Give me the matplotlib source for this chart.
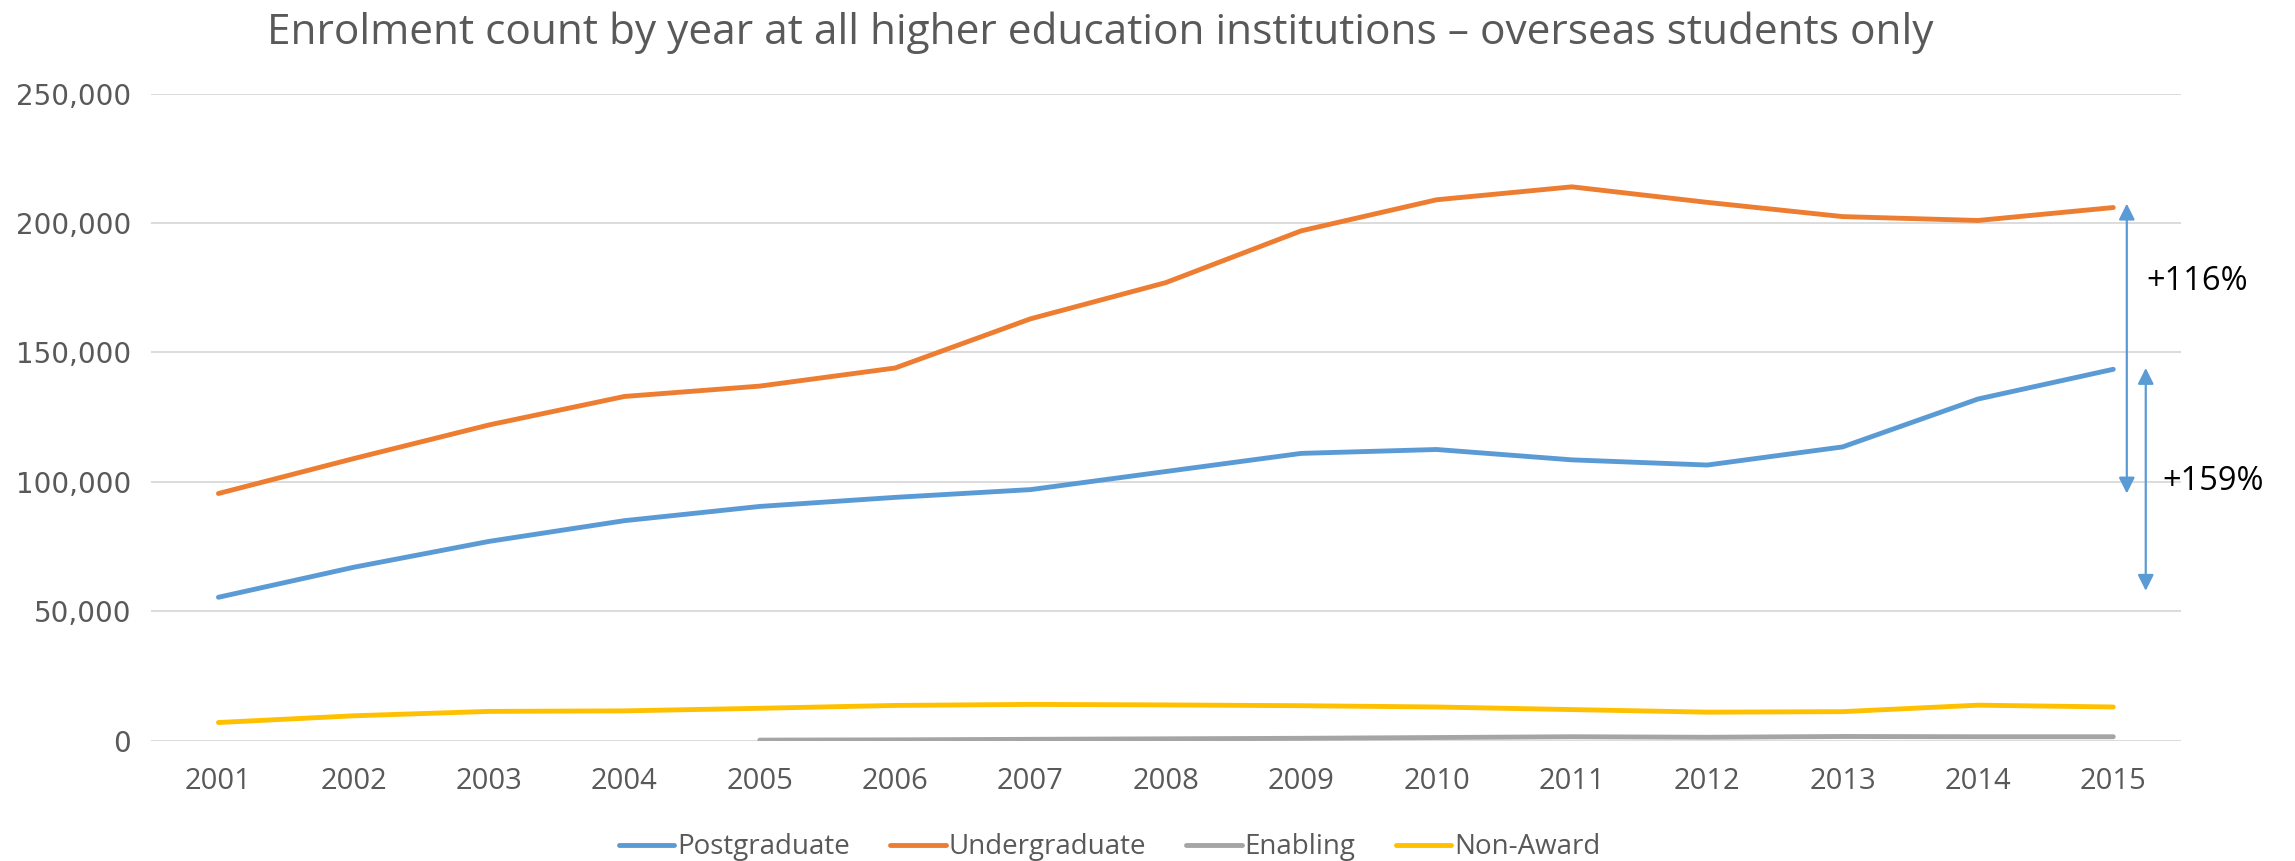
import matplotlib
matplotlib.use("Agg")
import matplotlib.pyplot as plt
from matplotlib.ticker import FuncFormatter

years = list(range(2001, 2016))
postgraduate = [55400, 67000, 77000, 85000, 90500, 94000, 97000, 104000, 111000, 112500, 108500, 106500, 113500, 132000, 143500]
undergraduate = [95500, 109000, 122000, 133000, 137000, 144000, 163000, 177000, 197000, 209000, 214000, 208000, 202500, 201000, 206000]
enabling_years = list(range(2005, 2016))
enabling = [200, 300, 500, 700, 900, 1200, 1500, 1300, 1600, 1500, 1500]
non_award = [7000, 9600, 11300, 11500, 12500, 13600, 14000, 13800, 13500, 13000, 12000, 11000, 11200, 13700, 13000]
series_names = ["Postgraduate", "Undergraduate", "Enabling", "Non-Award"]
colors = ["#5B9BD5", "#ED7D31", "#A5A5A5", "#FFC000"]
title = "Enrolment count by year at all higher education institutions \u2013 overseas students only"
ug_change = "+116%"
pg_change = "+159%"

fig = plt.figure(figsize=(22.95, 8.61), dpi=100)
ax = fig.add_axes([0.0657, 0.1398, 0.8846, 0.7514])

lw = 3.5
ax.plot(years, postgraduate, color=colors[0], lw=lw, label=series_names[0], solid_capstyle="round", zorder=3)
ax.plot(years, undergraduate, color=colors[1], lw=lw, label=series_names[1], solid_capstyle="round", zorder=3)
ax.plot(enabling_years, enabling, color=colors[2], lw=lw, label=series_names[2], solid_capstyle="round", zorder=3)
ax.plot(years, non_award, color=colors[3], lw=lw, label=series_names[3], solid_capstyle="round", zorder=3)

ax.set_xlim(2000.5, 2015.5)
ax.set_ylim(0, 250000)
ax.set_xticks(years)
ax.set_yticks(range(0, 250001, 50000))
ax.yaxis.set_major_formatter(FuncFormatter(lambda v, p: f"{int(v):,}"))
ax.grid(axis="y", color="#D9D9D9", lw=1.3)
ax.set_axisbelow(True)
for s in ax.spines.values():
    s.set_visible(False)
ax.tick_params(length=0)
ax.tick_params(axis="y", labelfontfamily="DejaVu Sans", labelsize=20, labelcolor="#595959", pad=14)
ax.tick_params(axis="x", labelfontfamily="Open Sans", labelsize=21, labelcolor="#595959", pad=19)

fig.text(0.4796, 0.962, title, ha="center", va="center", fontsize=30.5, color="#595959", family="Open Sans")

# arrows
ax.annotate("", xy=(2015.1, undergraduate[-1] + 1500), xytext=(2015.1, undergraduate[0]),
            arrowprops=dict(arrowstyle="<|-|>", color=colors[0], lw=1.6, mutation_scale=24, shrinkA=0, shrinkB=0),
            annotation_clip=False)
ax.annotate("", xy=(2015.24, postgraduate[-1] + 500), xytext=(2015.24, postgraduate[0] + 2500),
            arrowprops=dict(arrowstyle="<|-|>", color=colors[0], lw=1.6, mutation_scale=24, shrinkA=0, shrinkB=0),
            annotation_clip=False)
fig.text(2146 / 2295, 1 - 282 / 861, ug_change, ha="left", va="center", fontsize=23.5, color="black", family="Open Sans")
fig.text(2162 / 2295, 1 - 482 / 861, pg_change, ha="left", va="center", fontsize=23.5, color="black", family="Open Sans")

leg = fig.legend(loc="center", bbox_to_anchor=(0.4835, 0.016), ncol=4, frameon=False,
                 prop={"family": "Open Sans", "size": 20}, handlelength=2.0,
                 handletextpad=0.1, columnspacing=1.45)
for t in leg.get_texts():
    t.set_color("#595959")

fig.savefig("out.png", dpi=100)
